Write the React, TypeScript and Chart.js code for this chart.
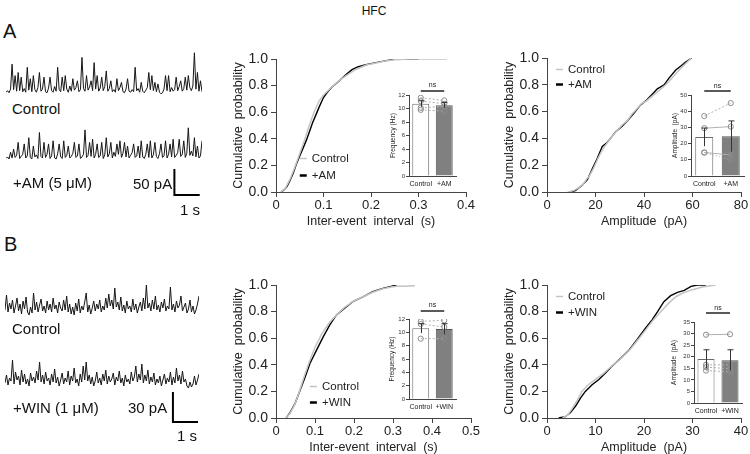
import React, { useEffect, useRef } from "react";
import { Chart, registerables } from "chart.js";

Chart.register(...registerables);

const FONT = "'Liberation Sans', Arial, Helvetica, sans-serif";
Chart.defaults.font.family = FONT;
Chart.defaults.color = "#222";

// ---------------- data ----------------
const SAMPLE_DT = 0.06; // s between trace samples

// sEPSC traces (pA above baseline)
const traceCtrlA = [
  3, 6, 2, 9, 57, 8, 35, 5, 41, 6,
  32, 4, 10, 3, 51, 7, 29, 4, 35, 8,
  3, 12, 41, 5, 9, 32, 4, 2, 11, 32,
  6, 3, 14, 5, 51, 8, 4, 32, 6, 35,
  9, 3, 15, 5, 29, 7, 12, 25, 4, 8,
  70, 10, 5, 35, 7, 13, 25, 6, 60, 9,
  35, 5, 11, 32, 6, 14, 44, 5, 10, 25,
  4, 8, 3, 29, 6, 12, 22, 4, 2, 9,
  29, 5, 3, 8, 4, 51, 6, 10, 3, 22,
  5, 2, 7, 12, 41, 8, 35, 6, 22, 4,
  19, 3, 0, 2, 9, 35, 6, 35, 4, 12,
  5, 8, 32, 6, 14, 25, 5, 10, 32, 7,
  35, 12, 6, 15, 79, 9, 41, 5, 25, 4,
];
const traceAmA = [
  4, 7, 3, 16, 5, 22, 6, 10, 35, 4,
  8, 12, 32, 5, 9, 44, 6, 3, 28, 7,
  11, 4, 54, 8, 5, 35, 6, 12, 32, 4,
  9, 38, 5, 3, 13, 32, 7, 4, 38, 6,
  10, 28, 5, 8, 14, 35, 6, 9, 32, 4,
  7, 12, 59, 6, 10, 35, 8, 41, 5, 12,
  32, 6, 9, 35, 4, 11, 44, 7, 13, 35,
  5, 16, 8, 32, 12, 38, 6, 14, 35, 7,
  28, 5, 10, 15, 32, 6, 9, 28, 5, 38,
  7, 4, 12, 32, 6, 38, 5, 11, 35, 8,
  4, 13, 32, 6, 9, 38, 5, 12, 32, 7,
  41, 6, 10, 15, 41, 8, 12, 38, 6, 14,
  63, 10, 18, 9, 44, 7, 28, 5, 9, 38,
];
const traceCtrlB = [
  8, 23, 6, 15, 9, 18, 5, 12, 20, 7,
  14, 4, 17, 9, 21, 6, 3, 11, 5, 25,
  8, 16, 6, 13, 19, 7, 12, 5, 17, 8,
  14, 6, 20, 9, 13, 5, 16, 10, 7, 18,
  8, 22, 6, 14, 4, 11, 3, 15, 7, 19,
  5, 12, 8, 16, 25, 6, 13, 4, 10, 17,
  7, 14, 9, 18, 6, 12, 8, 20, 10, 24,
  12, 18, 9, 30, 11, 16, 8, 21, 7, 13,
  5, 17, 9, 12, 6, 19, 8, 14, 5, 11,
  16, 7, 20, 9, 33, 10, 15, 7, 18, 9,
  22, 8, 13, 6, 16, 10, 19, 7, 12, 9,
  31, 8, 14, 6, 17, 10, 13, 22, 7, 11,
  15, 5, 9, 18, 6, 12, 4, 8, 14, 22,
];
const traceWinB = [
  7, 15, 5, 12, 9, 30, 6, 18, 10, 14,
  5, 20, 8, 16, 6, 11, 4, 17, 9, 13,
  7, 19, 10, 28, 8, 15, 6, 18, 9, 12,
  5, 16, 8, 21, 7, 13, 4, 10, 17, 6,
  12, 8, 19, 5, 14, 9, 22, 7, 11, 4,
  16, 8, 24, 10, 28, 9, 15, 6, 13, 4,
  9, 18, 7, 12, 5, 16, 9, 20, 6, 14,
  8, 11, 17, 5, 13, 9, 19, 7, 12, 4,
  15, 8, 11, 6, 18, 9, 13, 24, 8, 16,
  10, 26, 7, 15, 9, 20, 6, 13, 8, 17,
  5, 11, 7, 14, 4, 10, 16, 6, 12, 8,
  18, 5, 13, 7, 22, 9, 15, 6, 19, 8,
  11, 4, 2, 8, 3, 6, 14, 5, 10, 16,
];

// scale bars
const SCALE_T = 1; // s
const SCALE_A_PA = 50;
const SCALE_B_PA = 30;

// labels
const groupA = ["Control", "+AM"];
const groupB = ["Control", "+WIN"];
const drugTextA = "+AM (5 μM)";
const drugTextB = "+WIN (1 μM)";
const SIG_LABEL = "ns";

// cumulative distributions — inter-event interval (s)
const iviCtrlAx = [0.010, 0.020, 0.030, 0.040, 0.050, 0.060, 0.070, 0.080, 0.090, 0.100, 0.115, 0.130, 0.150, 0.170, 0.190, 0.210, 0.230, 0.250, 0.280, 0.310, 0.340, 0.360];
const iviCtrlAy = [0, 0.03, 0.10, 0.19, 0.29, 0.39, 0.50, 0.60, 0.68, 0.73, 0.78, 0.83, 0.88, 0.925, 0.955, 0.97, 0.985, 0.995, 1.0, 1.0, 1.0, 1.0];
const iviAmAx = [0.011, 0.018, 0.023, 0.030, 0.036, 0.043, 0.050, 0.057, 0.064, 0.070, 0.077, 0.084, 0.091, 0.100, 0.108, 0.118, 0.128, 0.139, 0.150, 0.160, 0.172, 0.187, 0.200, 0.221, 0.235, 0.249, 0.265, 0.285, 0.300];
const iviAmAy = [0, 0.02, 0.04, 0.09, 0.14, 0.21, 0.27, 0.33, 0.39, 0.45, 0.52, 0.58, 0.64, 0.71, 0.75, 0.79, 0.82, 0.855, 0.89, 0.92, 0.94, 0.955, 0.965, 0.98, 0.99, 0.997, 1.0, 1.0, 1.0];

// amplitude (pA)
const ampCtrlAx = [8.5, 11, 13, 15, 16.5, 17.5, 19, 21, 23, 25, 27, 29, 31, 33, 35, 37, 39, 41, 43, 45, 47, 49, 51, 53, 55, 57, 59, 59.5];
const ampCtrlAy = [0, 0.01, 0.03, 0.06, 0.1, 0.12, 0.17, 0.25, 0.32, 0.37, 0.42, 0.46, 0.5, 0.53, 0.58, 0.62, 0.66, 0.68, 0.71, 0.74, 0.77, 0.8, 0.84, 0.88, 0.92, 0.955, 0.99, 1.0];
const ampAmAx = [9.7, 11.7, 14.5, 16.6, 18.6, 20.7, 22.8, 24.8, 26.2, 28.3, 30.3, 33.1, 35.9, 38.6, 40.7, 43.4, 45.5, 48.3, 50.3, 53.1, 55.2, 57.2, 59.7];
const ampAmAy = [0, 0.01, 0.05, 0.09, 0.17, 0.25, 0.34, 0.37, 0.40, 0.45, 0.48, 0.53, 0.59, 0.65, 0.68, 0.73, 0.77, 0.80, 0.85, 0.91, 0.94, 0.97, 1.0];

const iviCtrlBx = [0.025, 0.035, 0.048, 0.060, 0.072, 0.085, 0.100, 0.117, 0.135, 0.155, 0.175, 0.197, 0.222, 0.248, 0.272, 0.295, 0.310, 0.330, 0.356];
const iviCtrlBy = [0, 0.03, 0.10, 0.20, 0.31, 0.42, 0.53, 0.63, 0.71, 0.775, 0.83, 0.875, 0.91, 0.945, 0.97, 0.985, 0.99, 0.99, 0.995];
const iviWinBx = [0.026, 0.036, 0.049, 0.062, 0.075, 0.087, 0.104, 0.121, 0.138, 0.155, 0.176, 0.197, 0.223, 0.248, 0.274, 0.295, 0.309];
const iviWinBy = [0, 0.04, 0.11, 0.21, 0.31, 0.41, 0.51, 0.61, 0.70, 0.775, 0.825, 0.875, 0.91, 0.95, 0.975, 0.99, 1.0];

const ampCtrlBx = [3.2, 4.2, 5.2, 6.2, 7.2, 8.5, 10, 11.5, 13, 15, 17, 19, 20.5, 22, 23.5, 25, 26.5, 28, 30, 32, 34.8];
const ampCtrlBy = [0, 0.02, 0.07, 0.13, 0.20, 0.25, 0.29, 0.33, 0.38, 0.44, 0.51, 0.60, 0.67, 0.74, 0.80, 0.86, 0.91, 0.94, 0.965, 0.985, 1.0];
const ampWinBx = [2.4, 3.8, 4.8, 5.9, 6.9, 7.9, 9.3, 10.7, 12.1, 13.4, 15.2, 16.9, 18.6, 20.3, 21.7, 22.8, 24.1, 25.5, 26.9, 28.3, 29.7, 31, 32.8];
const ampWinBy = [0, 0.01, 0.04, 0.09, 0.15, 0.2, 0.25, 0.29, 0.34, 0.39, 0.45, 0.51, 0.59, 0.675, 0.74, 0.8, 0.875, 0.92, 0.945, 0.96, 0.99, 1.0, 1.0];

// inset bar charts (mean, SEM, individual cells)
const freqMeanA = [10.7, 10.5];
const freqSemA = [0.45, 0.4];
const freqCellsCtrlA = [11.6, 11.1, 10.1, 9.8];
const freqCellsAmA = [11.2, 10.7, 10.3, 9.6];

const ampMeanA = [24, 24.5];
const ampSemA = [5.6, 9.5];
const ampCellsCtrlA = [37, 29.5, 14.5, 14.5];
const ampCellsAmA = [45, 30.5, 13, 10];

const freqMeanB = [10.6, 10.5];
const freqSemB = [0.7, 0.8];
const freqCellsCtrlB = [11.65, 11.25, 9.05];
const freqCellsWinB = [11.8, 10.8, 9.05];

const ampMeanB = [19, 18.5];
const ampSemB = [4, 4.5];
const ampCellsCtrlB = [29.5, 16.5, 15.5, 14];
const ampCellsWinB = [29.7, 16.5, 14.8, 13.5];

// ---------------- plugins ----------------
const scaleBarPlugin = {
  id: "scaleBar",
  afterDatasetsDraw(chart: any, _a: any, opts: any) {
    if (!opts || opts.t0 == null) return;
    const { ctx, scales } = chart;
    const x = scales.x;
    const y = scales.y;
    const px0 = x.getPixelForValue(opts.t0);
    const px1 = x.getPixelForValue(opts.t0 + opts.dt);
    const py0 = y.getPixelForValue(opts.v0);
    const py1 = y.getPixelForValue(opts.v0 + opts.dv);
    ctx.save();
    ctx.strokeStyle = "#000";
    ctx.lineWidth = 2;
    ctx.beginPath();
    ctx.moveTo(px0, py1);
    ctx.lineTo(px0, py0);
    ctx.lineTo(px1, py0);
    ctx.stroke();
    ctx.restore();
  },
};

const cumLegendPlugin = {
  id: "cumLegend",
  afterDatasetsDraw(chart: any, _a: any, opts: any) {
    if (!opts || opts.x == null) return;
    const { ctx, scales } = chart;
    const px = scales.x.getPixelForValue(opts.x);
    const py = scales.y.getPixelForValue(opts.y);
    chart.data.datasets.forEach((ds: any, i: number) => {
      const yy = Math.round(py + i * opts.gap) + 0.5;
      ctx.save();
      ctx.strokeStyle = ds.borderColor;
      ctx.lineWidth = ds.legendLineWidth;
      ctx.beginPath();
      ctx.moveTo(px, yy);
      ctx.lineTo(px + 7, yy);
      ctx.stroke();
      ctx.fillStyle = "#222";
      ctx.font = `11.5px ${FONT}`;
      ctx.textBaseline = "middle";
      ctx.fillText(ds.label, px + 12, yy);
      ctx.restore();
    });
  },
};

const insetPlugin = {
  id: "insetExtras",
  afterDatasetsDraw(chart: any, _a: any, opts: any) {
    if (!opts || !opts.sem) return;
    const { ctx, scales, chartArea } = chart;
    const y = scales.y;
    const x = scales.x;
    const meta = chart.getDatasetMeta(0);
    const means = chart.data.datasets[0].data;
    ctx.save();
    ctx.strokeStyle = "#333";
    ctx.lineWidth = 1;
    meta.data.forEach((el: any, i: number) => {
      const cx = Math.round(el.x) + 0.5;
      const hi = y.getPixelForValue(means[i] + opts.sem[i]);
      const lo = y.getPixelForValue(means[i] - opts.sem[i]);
      ctx.beginPath();
      ctx.moveTo(cx, hi);
      ctx.lineTo(cx, lo);
      ctx.moveTo(cx - 3, hi);
      ctx.lineTo(cx + 3, hi);
      ctx.stroke();
    });
    const c0 = x.getPixelForValue(0);
    const c1 = x.getPixelForValue(1);
    const ly = chartArea.top - opts.lineGap;
    ctx.strokeStyle = "#000";
    ctx.lineWidth = 1.3;
    ctx.beginPath();
    ctx.moveTo(c0, ly);
    ctx.lineTo(c1, ly);
    ctx.stroke();
    ctx.fillStyle = "#222";
    ctx.font = `7px ${FONT}`;
    ctx.textAlign = "center";
    ctx.textBaseline = "middle";
    ctx.fillText(SIG_LABEL, (c0 + c1) / 2, chartArea.top - opts.textGap);
    ctx.restore();
  },
};

// ---------------- config builders ----------------
const toPts = (xs: number[], ys: number[]) => xs.map((v, i) => ({ x: v, y: ys[i] }));

function traceConfig(values: number[], yMin: number, yMax: number, bar?: any) {
  return {
    type: "line",
    data: {
      datasets: [
        {
          data: values.map((v, i) => ({ x: i * SAMPLE_DT, y: v })),
          borderColor: "#161616",
          borderWidth: 1,
          pointRadius: 0,
          tension: 0,
        },
      ],
    },
    options: {
      animation: false,
      responsive: false,
      events: [],
      layout: { padding: 0 },
      plugins: { legend: { display: false }, tooltip: { enabled: false }, scaleBar: bar || {} },
      scales: {
        x: { type: "linear", display: false, min: 0, max: (values.length - 1) * SAMPLE_DT },
        y: { display: false, min: yMin, max: yMax },
      },
    },
    plugins: [scaleBarPlugin],
  };
}

function cumConfig(p: any) {
  const axisCol = "#444";
  return {
    type: "line",
    data: {
      datasets: [
        { label: p.labels[0], data: toPts(p.cx, p.cy), borderColor: "#c4c4c4", borderWidth: 1.5, pointRadius: 0, tension: 0, legendLineWidth: 1.5 },
        { label: p.labels[1], data: toPts(p.dx, p.dy), borderColor: "#000", borderWidth: 1.4, pointRadius: 0, tension: 0, legendLineWidth: 2.5 },
      ],
    },
    options: {
      animation: false,
      responsive: false,
      events: [],
      layout: { padding: { top: p.padTop, right: p.padRight, left: 0, bottom: 0 } },
      plugins: { legend: { display: false }, tooltip: { enabled: false }, cumLegend: p.legend },
      scales: {
        x: {
          type: "linear",
          min: 0,
          max: p.xMax,
          ticks: { stepSize: p.xStep, font: { size: 13 }, padding: 0.5, color: "#222", maxRotation: 0 },
          grid: { drawOnChartArea: false, tickLength: 5, color: axisCol },
          border: { color: axisCol, width: 1 },
          title: { display: true, text: p.xTitle, font: { size: 12.5 }, padding: 0, color: "#222" },
          afterFit: (s: any) => { s.height = p.xAxisH; },
        },
        y: {
          min: 0,
          max: 1,
          ticks: { stepSize: 0.2, font: { size: 14 }, padding: 3, color: "#222", callback: (v: any) => Number(v).toFixed(1) },
          grid: { drawOnChartArea: false, tickLength: 5, color: axisCol },
          border: { color: axisCol, width: 1 },
          title: { display: true, text: "Cumulative  probability", font: { size: 12.5 }, padding: 0, color: "#222" },
          afterFit: (s: any) => { s.width = p.yAxisW; },
        },
      },
    },
    plugins: [cumLegendPlugin],
  };
}

function insetConfig(p: any) {
  return {
    type: "bar",
    data: {
      labels: p.labels,
      datasets: [
        {
          type: "bar",
          data: p.means,
          backgroundColor: ["#ffffff", "#808080"],
          borderColor: ["#6a6a6a", "#555555"],
          borderWidth: 1,
          barPercentage: p.barPct,
          categoryPercentage: 1,
          order: 2,
        },
        ...p.ctrl.map((c: number, i: number) => ({
          type: "line",
          data: [c, p.drug[i]],
          borderColor: "#b0b0b0",
          borderWidth: 1,
          borderDash: p.dashes[i],
          pointRadius: 2.6,
          pointBorderColor: "#8c8c8c",
          pointBackgroundColor: "rgba(255,255,255,0)",
          pointBorderWidth: 1,
          order: 1,
        })),
      ],
    },
    options: {
      animation: false,
      responsive: false,
      events: [],
      layout: { padding: { top: p.padTop, right: p.padRight, left: 0, bottom: 0 } },
      plugins: {
        legend: { display: false },
        tooltip: { enabled: false },
        insetExtras: { sem: p.sem, lineGap: p.lineGap, textGap: p.textGap },
      },
      scales: {
        x: {
          grid: { display: false, drawTicks: false },
          border: { color: "#444", width: 1 },
          ticks: { font: { size: 7 }, padding: 4, color: "#222", maxRotation: 0, autoSkip: false },
          afterFit: (s: any) => { s.height = p.xAxisH; },
        },
        y: {
          min: 0,
          max: p.yMax,
          ticks: { stepSize: p.yStep, font: { size: 6 }, padding: 1, color: "#333" },
          grid: { drawOnChartArea: false, tickLength: 3, color: "#444" },
          border: { color: "#444", width: 1 },
          title: { display: true, text: p.yTitle, font: { size: 6.5 }, padding: 0, color: "#222" },
          afterFit: (s: any) => { s.width = p.yAxisW; },
        },
      },
    },
    plugins: [insetPlugin],
  };
}

// ---------------- components ----------------
function ChartBox({ left, top, width, height, make }: any) {
  const ref = useRef<HTMLCanvasElement>(null);
  useEffect(() => {
    const chart = new Chart(ref.current as HTMLCanvasElement, make());
    return () => chart.destroy();
  }, []);
  return (
    <canvas
      ref={ref}
      width={width}
      height={height}
      style={{ position: "absolute", left, top, width, height }}
    />
  );
}

function Trace({ values, left, width, baseline, k, yMin, yMax, bar }: any) {
  const top = Math.round(baseline - yMax * k);
  const height = Math.round((yMax - yMin) * k);
  return (
    <ChartBox left={left} top={top} width={width} height={height} make={() => traceConfig(values, yMin, yMax, bar)} />
  );
}

function Txt({ x, y, size, children, center }: any) {
  return (
    <div
      style={{
        position: "absolute",
        left: x,
        top: y,
        fontSize: size,
        lineHeight: 1,
        fontFamily: FONT,
        color: "#111",
        whiteSpace: "pre",
        transform: center ? "translate(-50%, -50%)" : "translateY(-50%)",
      }}
    >
      {children}
    </div>
  );
}

export default function App() {
  const dotted = [2, 2];
  return (
    <div
      style={{
        position: "fixed",
        left: 0,
        top: 0,
        width: 750,
        height: 454,
        overflow: "hidden",
        background: "#fff",
        fontFamily: FONT,
      }}
    >
      <Txt x={374} y={11} size={12} center>HFC</Txt>
      <Txt x={3} y={31} size={20}>A</Txt>
      <Txt x={4} y={244} size={20}>B</Txt>

      {/* Panel A traces */}
      <Trace values={traceCtrlA} left={6} width={196} baseline={94} k={0.52} yMin={-10} yMax={90} />
      <Trace
        values={traceAmA}
        left={6}
        width={196}
        baseline={161}
        k={0.52}
        yMin={-72}
        yMax={78}
        bar={{ t0: 6.65, dt: SCALE_T, v0: -66, dv: SCALE_A_PA }}
      />
      <Txt x={12} y={108} size={15}>{groupA[0]}</Txt>
      <Txt x={13} y={182} size={15}>{drugTextA}</Txt>
      <Txt x={133} y={183} size={15}>{`${SCALE_A_PA} pA`}</Txt>
      <Txt x={180} y={209} size={15}>{`${SCALE_T} s`}</Txt>

      {/* Panel B traces */}
      <Trace values={traceCtrlB} left={5} width={194} baseline={318} k={1} yMin={-4} yMax={40} />
      <Trace
        values={traceWinB}
        left={5}
        width={194}
        baseline={390}
        k={1}
        yMin={-36}
        yMax={36}
        bar={{ t0: 6.7, dt: SCALE_T, v0: -32, dv: SCALE_B_PA }}
      />
      <Txt x={12} y={328} size={15}>{groupB[0]}</Txt>
      <Txt x={13} y={407} size={15}>{drugTextB}</Txt>
      <Txt x={128} y={407} size={15}>{`${SCALE_B_PA} pA`}</Txt>
      <Txt x={177} y={435} size={15}>{`${SCALE_T} s`}</Txt>

      {/* Panel A cumulative plots */}
      <ChartBox
        left={231}
        top={40}
        width={249}
        height={189}
        make={() =>
          cumConfig({
            labels: groupA, cx: iviCtrlAx, cy: iviCtrlAy, dx: iviAmAx, dy: iviAmAy,
            xMax: 0.4, xStep: 0.1, xTitle: "Inter-event  interval  (s)",
            yAxisW: 45, xAxisH: 37, padTop: 19, padRight: 14,
            legend: { x: 0.05, y: 0.256, gap: 17 },
          })
        }
      />
      <ChartBox
        left={502}
        top={40}
        width={248}
        height={189}
        make={() =>
          cumConfig({
            labels: groupA, cx: ampCtrlAx, cy: ampCtrlAy, dx: ampAmAx, dy: ampAmAy,
            xMax: 80, xStep: 20, xTitle: "Amplitude  (pA)",
            yAxisW: 45, xAxisH: 37, padTop: 18, padRight: 9,
            legend: { x: 3.7, y: 0.918, gap: 15 },
          })
        }
      />

      {/* Panel B cumulative plots */}
      <ChartBox
        left={231}
        top={266}
        width={254}
        height={189}
        make={() =>
          cumConfig({
            labels: groupB, cx: iviCtrlBx, cy: iviCtrlBy, dx: iviWinBx, dy: iviWinBy,
            xMax: 0.5, xStep: 0.1, xTitle: "Inter-event  interval  (s)",
            yAxisW: 45, xAxisH: 37, padTop: 19, padRight: 14,
            legend: { x: 0.087, y: 0.24, gap: 16 },
          })
        }
      />
      <ChartBox
        left={502}
        top={266}
        width={248}
        height={189}
        make={() =>
          cumConfig({
            labels: groupB, cx: ampCtrlBx, cy: ampCtrlBy, dx: ampWinBx, dy: ampWinBy,
            xMax: 40, xStep: 10, xTitle: "Amplitude  (pA)",
            yAxisW: 45, xAxisH: 37, padTop: 19, padRight: 9,
            legend: { x: 1.86, y: 0.917, gap: 16 },
          })
        }
      />

      {/* Insets */}
      <ChartBox
        left={389}
        top={76}
        width={72}
        height={115}
        make={() =>
          insetConfig({
            labels: groupA, means: freqMeanA, sem: freqSemA, ctrl: freqCellsCtrlA, drug: freqCellsAmA,
            dashes: [dotted, dotted, dotted, dotted],
            yMax: 12, yStep: 2, yTitle: "Frequency (Hz)", barPct: 0.72,
            yAxisW: 20, xAxisH: 15, padTop: 19, padRight: 5, lineGap: 4, textGap: 10,
          })
        }
      />
      <ChartBox
        left={671}
        top={76}
        width={79}
        height={115}
        make={() =>
          insetConfig({
            labels: groupA, means: ampMeanA, sem: ampSemA, ctrl: ampCellsCtrlA, drug: ampCellsAmA,
            dashes: [dotted, [], [], [1, 2]],
            yMax: 50, yStep: 10, yTitle: "Amplitude  (pA)", barPct: 0.68,
            yAxisW: 20, xAxisH: 15, padTop: 19, padRight: 6, lineGap: 4, textGap: 9,
          })
        }
      />
      <ChartBox
        left={388}
        top={300}
        width={73}
        height={114}
        make={() =>
          insetConfig({
            labels: groupB, means: freqMeanB, sem: freqSemB, ctrl: freqCellsCtrlB, drug: freqCellsWinB,
            dashes: [dotted, dotted, dotted],
            yMax: 12, yStep: 2, yTitle: "Frequency (Hz)", barPct: 0.72,
            yAxisW: 21, xAxisH: 15, padTop: 19, padRight: 5, lineGap: 8, textGap: 14,
          })
        }
      />
      <ChartBox
        left={670}
        top={303}
        width={80}
        height={115}
        make={() =>
          insetConfig({
            labels: groupB, means: ampMeanB, sem: ampSemB, ctrl: ampCellsCtrlB, drug: ampCellsWinB,
            dashes: [[], dotted, dotted, dotted],
            yMax: 35, yStep: 5, yTitle: "Amplitude  (pA)", barPct: 0.71,
            yAxisW: 24, xAxisH: 15, padTop: 19, padRight: 8, lineGap: 9, textGap: 14,
          })
        }
      />
    </div>
  );
}
